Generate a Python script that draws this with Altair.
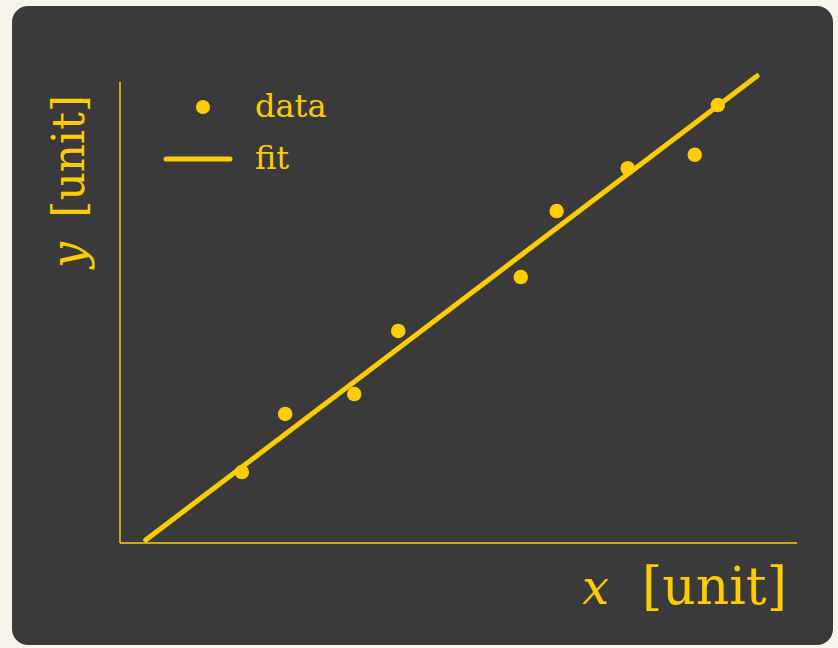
import altair as alt
import pandas as pd

# data
data_x = [1.80, 2.44, 3.46, 4.11, 5.92, 6.45, 7.50, 8.49, 8.83]
data_y = [1.54, 2.80, 3.23, 4.60, 5.77, 7.20, 8.13, 8.42, 9.50]
fit_x = [0.38, 9.41]
fit_y = [0.065, 10.13]
legend_labels = ["data", "fit"]
x_title = ["x", "[unit]"]
y_title = ["y", "[unit]"]

YEL = "#ffcc00"
DARK = "#3a3a3a"
CREAM = "#f7f5eb"
FONT = "DejaVu Serif"

xs = alt.Scale(domain=[0, 10], range=[120, 797])
ys = alt.Scale(domain=[0, 10], range=[543, 82])

pts = pd.DataFrame({"x": data_x, "y": data_y})
fit = pd.DataFrame({"x": fit_x, "y": fit_y})
axes_df = pd.DataFrame({"x0": [0, 0], "x1": [10, 0], "y0": [0, 0], "y1": [0, 10]})
one = pd.DataFrame({"a": [0]})

panel = alt.Chart(one).mark_rect(color=DARK, cornerRadius=16).encode(
    x=alt.value(12), x2=alt.value(833), y=alt.value(6), y2=alt.value(645)
)

axes = alt.Chart(axes_df).mark_rule(color=YEL, strokeWidth=1.5).encode(
    x=alt.X("x0:Q", scale=xs, axis=None),
    x2="x1:Q",
    y=alt.Y("y0:Q", scale=ys, axis=None),
    y2="y1:Q",
)

line = alt.Chart(fit).mark_line(color=YEL, strokeWidth=5, strokeCap="round", clip=False).encode(
    x=alt.X("x:Q", scale=xs, axis=None),
    y=alt.Y("y:Q", scale=ys, axis=None),
)

points = alt.Chart(pts).mark_circle(color=YEL, size=210, opacity=1).encode(
    x=alt.X("x:Q", scale=xs, axis=None),
    y=alt.Y("y:Q", scale=ys, axis=None),
)

# legend
leg_dot = alt.Chart(one).mark_circle(color=YEL, size=200, opacity=1).encode(
    x=alt.value(203), y=alt.value(107)
)
leg_line = alt.Chart(one).mark_rule(color=YEL, strokeWidth=5, strokeCap="round").encode(
    x=alt.value(166), x2=alt.value(230), y=alt.value(159)
)
leg_text = alt.Chart(pd.DataFrame({"label": legend_labels, "yy": [107, 159]})).mark_text(
    color=YEL, font=FONT, fontSize=32, align="left", baseline="middle"
).encode(
    x=alt.value(255), y=alt.Y("yy:Q", scale=None), text="label:N"
)

# axis titles
xt_var = alt.Chart(pd.DataFrame({"t": [x_title[0]]})).mark_text(
    color=YEL, font=FONT, fontStyle="italic", fontSize=48, align="left", baseline="alphabetic"
).encode(x=alt.value(582), y=alt.value(604), text="t:N")
xt_unit = alt.Chart(pd.DataFrame({"t": [x_title[1]]})).mark_text(
    color=YEL, font=FONT, fontSize=52, align="right", baseline="alphabetic"
).encode(x=alt.value(787), y=alt.value(604), text="t:N")

yt_var = alt.Chart(pd.DataFrame({"t": [y_title[0]]})).mark_text(
    color=YEL, font=FONT, fontStyle="italic", fontSize=46, align="left", baseline="alphabetic", angle=270
).encode(x=alt.value(84), y=alt.value(268), text="t:N")
yt_unit = alt.Chart(pd.DataFrame({"t": [y_title[1]]})).mark_text(
    color=YEL, font=FONT, fontSize=44, align="right", baseline="alphabetic", angle=270
).encode(x=alt.value(84), y=alt.value(95), text="t:N")

chart = alt.layer(
    panel, axes, line, points, leg_dot, leg_line, leg_text, xt_var, xt_unit, yt_var, yt_unit
).properties(
    width=838, height=648, background=CREAM, padding=0,
    autosize=alt.AutoSizeParams(type="none"),
).configure_view(stroke=None)

chart.save("out.html", embed_options={"renderer": "svg", "actions": False})
